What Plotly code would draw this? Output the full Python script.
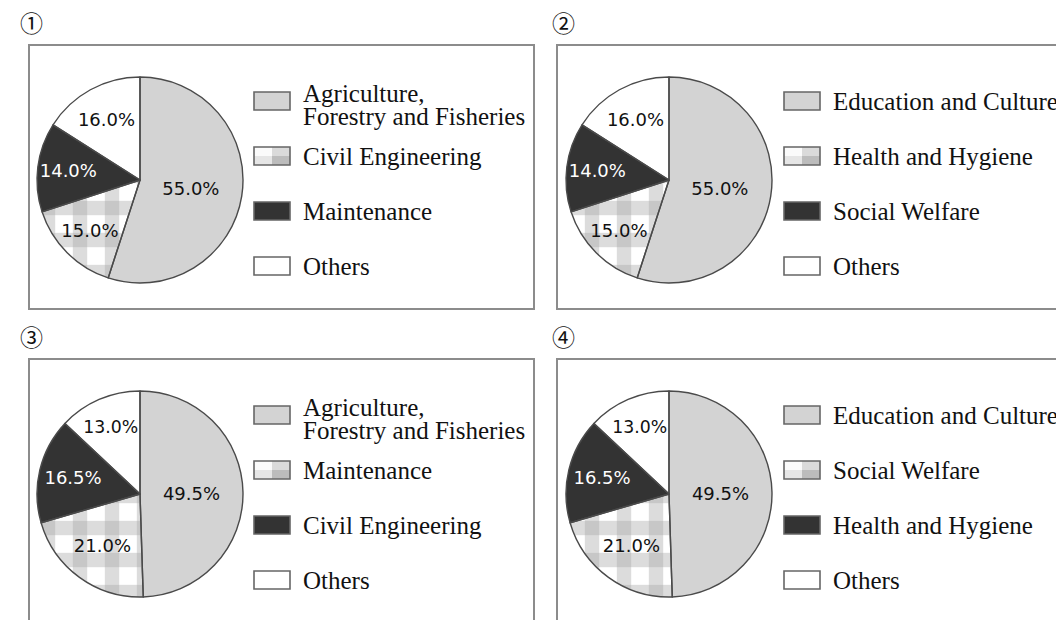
import plotly.graph_objects as go

W, H = 1056, 620

# ---------------- data ----------------
panel_marks = ["①", "②", "③", "④"]
cats_1 = ["Agriculture,<br>Forestry and Fisheries", "Civil Engineering", "Maintenance", "Others"]
cats_2 = ["Education and Culture", "Health and Hygiene", "Social Welfare", "Others"]
cats_3 = ["Agriculture,<br>Forestry and Fisheries", "Maintenance", "Civil Engineering", "Others"]
cats_4 = ["Education and Culture", "Social Welfare", "Health and Hygiene", "Others"]
values_1 = [55.0, 15.0, 14.0, 16.0]
values_2 = [55.0, 15.0, 14.0, 16.0]
values_3 = [49.5, 21.0, 16.5, 13.0]
values_4 = [49.5, 21.0, 16.5, 13.0]

# ---------------- style ----------------
GREY = "#d3d3d3"
DARK = "#333333"
WHITE = "#ffffff"
slice_colors = [GREY, WHITE, DARK, WHITE]
text_colors = ["#111111", "#111111", "#ffffff", "#111111"]
OUTLINE = "#4a4a4a"
BOX = "#8c8c8c"
CHECK = "#a6a6a6"

# panel geometry in pixels
panels = [
    dict(cats=cats_1, vals=values_1, box=(29, 45, 534, 309), c=(140, 180), r=103, sx=254, mark=(31, 22)),
    dict(cats=cats_2, vals=values_2, box=(557, 45, 1090, 309), c=(669, 180), r=103, sx=784, mark=(563, 22)),
    dict(cats=cats_3, vals=values_3, box=(29, 359, 534, 650), c=(140, 494), r=103, sx=254, mark=(31, 336)),
    dict(cats=cats_4, vals=values_4, box=(557, 359, 1090, 650), c=(669, 494), r=103, sx=784, mark=(563, 336)),
]
legend_offsets = [101, 156, 211, 266]  # swatch centres relative to panel top (45)

fig = go.Figure()
shapes = []
annotations = []

for i, p in enumerate(panels):
    cx, cy = p["c"]
    r = p["r"]
    dom = dict(x=[(cx - r) / W, (cx + r) / W],
               y=[1 - (cy + r) / H, 1 - (cy - r) / H])
    # base pie: fills + vertical bands of the gingham pattern
    fig.add_trace(go.Pie(
        values=p["vals"], labels=p["cats"], sort=False, direction="clockwise", rotation=0,
        domain=dom, showlegend=False, textinfo="none", hoverinfo="skip",
        marker=dict(colors=slice_colors, line=dict(width=0),
                    pattern=dict(shape=["", "|", "", ""], fgcolor=CHECK, fgopacity=0.4,
                                 size=32, solidity=0.45)),
    ))
    # overlay pie: horizontal bands, outlines and labels
    fig.add_trace(go.Pie(
        values=p["vals"], labels=p["cats"], sort=False, direction="clockwise", rotation=0,
        domain=dom, showlegend=False,
        texttemplate="%{value:.1f}%", textposition="inside", insidetextorientation="horizontal",
        textfont=dict(family="DejaVu Sans", size=18, color=text_colors),
        hovertemplate="%{label}: %{value:.1f}%<extra></extra>",
        marker=dict(colors=["rgba(0,0,0,0)"] * 4, line=dict(color=OUTLINE, width=1.4),
                    pattern=dict(shape=["", "-", "", ""], fgcolor=CHECK, fgopacity=0.4,
                                 size=32, solidity=0.45, bgcolor="rgba(0,0,0,0)")),
    ))

    bx0, by0, bx1, by1 = p["box"]
    shapes.append(dict(type="rect", xref="x", yref="y", x0=bx0, y0=by0, x1=bx1, y1=by1,
                       line=dict(color=BOX, width=2), fillcolor="rgba(0,0,0,0)", layer="below"))
    mx, my = p["mark"]
    annotations.append(dict(x=mx, y=my, xref="x", yref="y", text=panel_marks[i], showarrow=False,
                            font=dict(family="Noto Sans CJK JP", size=23, color="#111"),
                            xanchor="center", yanchor="middle"))

    # legend
    sx = p["sx"]
    for k, lab in enumerate(p["cats"]):
        yc = by0 - 45 + legend_offsets[k]
        y0s, y1s = yc - 9, yc + 9
        x0s, x1s = sx, sx + 36
        if k == 1:
            xm, ym = (x0s + x1s) / 2, yc
            shapes.append(dict(type="rect", xref="x", yref="y", x0=x0s, y0=y0s, x1=xm, y1=ym,
                               line=dict(width=0), fillcolor="#fbfbfb"))
            shapes.append(dict(type="rect", xref="x", yref="y", x0=x0s, y0=ym, x1=xm, y1=y1s,
                               line=dict(width=0), fillcolor="#e6e6e6"))
            shapes.append(dict(type="rect", xref="x", yref="y", x0=xm, y0=y0s, x1=x1s, y1=ym,
                               line=dict(width=0), fillcolor="#dadada"))
            shapes.append(dict(type="rect", xref="x", yref="y", x0=xm, y0=ym, x1=x1s, y1=y1s,
                               line=dict(width=0), fillcolor="#bcbcbc"))
            shapes.append(dict(type="rect", xref="x", yref="y", x0=x0s, y0=y0s, x1=x1s, y1=y1s,
                               line=dict(color="#666", width=1.6), fillcolor="rgba(0,0,0,0)"))
        else:
            shapes.append(dict(type="rect", xref="x", yref="y", x0=x0s, y0=y0s, x1=x1s, y1=y1s,
                               line=dict(color="#666", width=1.6), fillcolor=slice_colors[k]))
        lines = lab.split("<br>")
        ys = [yc] if len(lines) == 1 else [yc - 8, yc + 15.5]
        for t, yy in zip(lines, ys):
            annotations.append(dict(x=sx + 47, y=yy, xref="x", yref="y", text=t, showarrow=False,
                                    font=dict(family="Liberation Serif", size=25, color="#111"),
                                    xanchor="left", yanchor="middle"))

fig.update_layout(
    width=W, height=H, margin=dict(l=0, r=0, t=0, b=0),
    paper_bgcolor="white", plot_bgcolor="white",
    xaxis=dict(range=[0, W], visible=False, fixedrange=True),
    yaxis=dict(range=[H, 0], visible=False, fixedrange=True),
    shapes=shapes, annotations=annotations, showlegend=False,
)

fig.write_html("out.html", config={"displayModeBar": False},
               post_script="document.body.style.margin='0';document.body.style.overflow='hidden';")
